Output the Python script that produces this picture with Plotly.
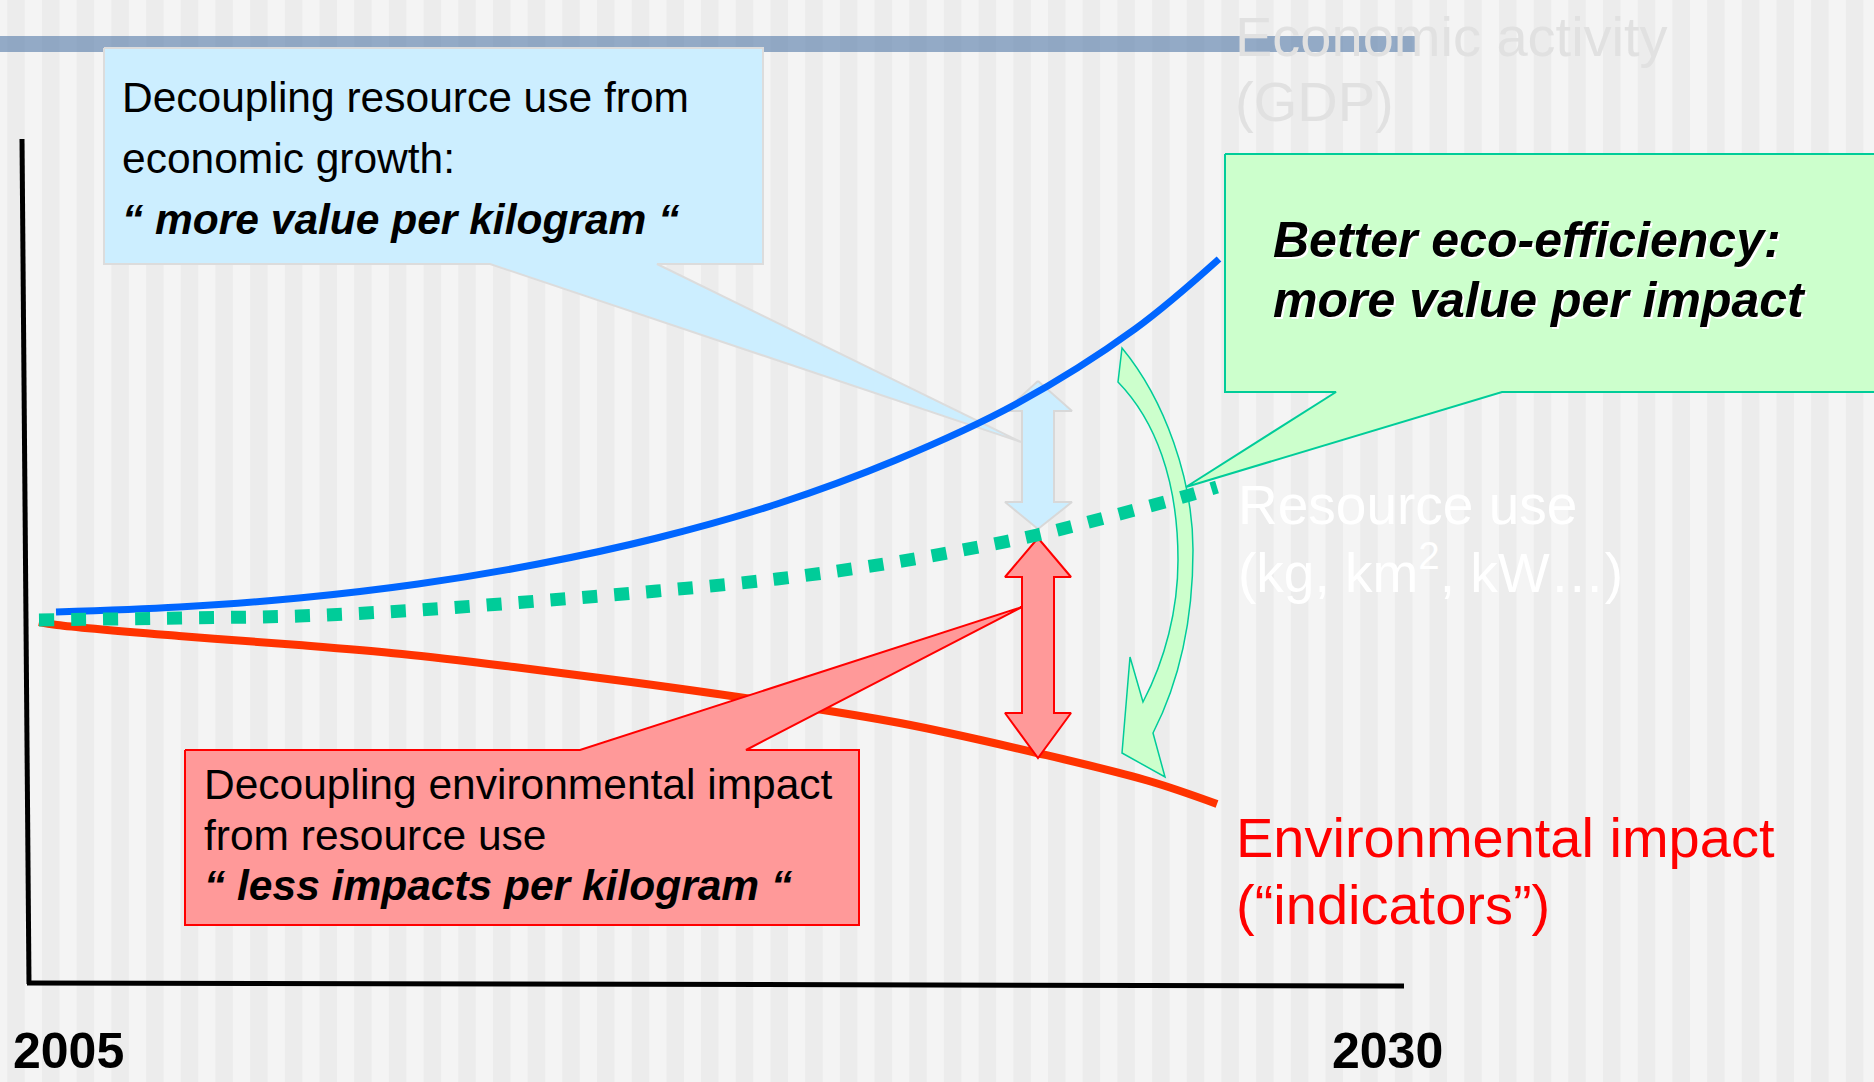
import plotly.graph_objects as go

W, H = 1874, 1082
FONT = "Liberation Sans, Arial, sans-serif"

# ---------------- data (diagram units = pixels of the original slide) -------------
econ_x = [56, 179, 299, 418, 538, 657, 777, 896, 1016, 1135, 1219]
econ_y = [612, 607, 598, 584, 564, 538, 504, 460, 404, 329, 259]

res_x = [39, 179, 299, 418, 538, 657, 777, 884, 963, 1037, 1112, 1190, 1217]
res_y = [620, 618, 616, 610, 601, 591, 579, 564, 550, 535, 516, 495, 487]

imp_x = [39, 57, 179, 299, 402, 514, 631, 765, 900, 1037, 1149, 1217]
imp_y = [622, 625, 636, 645, 654, 667, 682, 701, 723, 753, 781, 804]

year_labels = ["2005", "2030"]

fig = go.Figure()

# ---------------- background stripes + header bar (shapes, below traces) ----------
shapes = []
period, sw, start = 34.69, 17.5, 7.3 - 34.69
k = 0
while start + k * period < W:
    x0 = start + k * period
    shapes.append(dict(type="rect", xref="x", yref="y", x0=x0, x1=x0 + sw, y0=0, y1=H,
                       fillcolor="#ececec", line=dict(width=0), layer="below"))
    k += 1
shapes.append(dict(type="rect", xref="x", yref="y", x0=0, x1=1416, y0=36, y1=52,
                   fillcolor="#6a8ab2", opacity=0.7, line=dict(width=0), layer="below"))
# curved green arrow
shapes.append(dict(type="path", xref="x", yref="y", layer="below",
                   path="M1122,348 C1165,400 1193,480 1193,550 C1193,630 1175,690 1153,733 "
                        "L1165,777 L1122,753 L1130,657 L1143,702 "
                        "C1165,660 1178,610 1178,560 C1178,480 1155,420 1118,382 Z",
                   fillcolor="#ccffcc", line=dict(color="#00cc99", width=1.5)))


def poly(pts, fill, line, lw=2):
    xs = [p[0] for p in pts] + [pts[0][0]]
    ys = [p[1] for p in pts] + [pts[0][1]]
    fig.add_trace(go.Scatter(x=xs, y=ys, mode="lines", fill="toself", fillcolor=fill,
                             line=dict(color=line, width=lw), hoverinfo="skip",
                             showlegend=False))


def line(xs, ys, color, width, dash=None):
    fig.add_trace(go.Scatter(x=xs, y=ys, mode="lines", hoverinfo="skip", showlegend=False,
                             line=dict(color=color, width=width, dash=dash, shape="spline",
                                       smoothing=1.0)))


# axes lines
fig.add_trace(go.Scatter(x=[22, 29], y=[139, 984], mode="lines", hoverinfo="skip",
                         showlegend=False, line=dict(color="#000000", width=5)))
fig.add_trace(go.Scatter(x=[27, 1404], y=[983, 986], mode="lines", hoverinfo="skip",
                         showlegend=False, line=dict(color="#000000", width=5)))

# blue callout + blue double arrow (under the economic curve)
poly([(104, 48), (763, 48), (763, 264), (657, 264), (1021, 442), (490, 264), (104, 264)],
     "#cceeff", "#dcdcdc")
poly([(1038, 381), (1072, 411), (1054, 411), (1054, 502), (1072, 502), (1038, 529),
      (1005, 502), (1022, 502), (1022, 411), (1005, 411)], "#cceeff", "#d8d8d8")

line(econ_x, econ_y, "#0066ff", 7)
line(imp_x, imp_y, "#ff3300", 8)

# red callout + red double arrow
poly([(185, 750), (580, 750), (1022, 607), (746, 750), (859, 750), (859, 925), (185, 925)],
     "#ff9999", "#ff0000")
poly([(1038, 538), (1071, 577), (1054, 577), (1054, 713), (1071, 713), (1038, 758),
      (1005, 713), (1022, 713), (1022, 577), (1005, 577)], "#ff9999", "#ff0000")

# green callout
poly([(1225, 154), (1880, 154), (1880, 392), (1502, 392), (1186, 487), (1336, 392),
      (1225, 392)], "#ccffcc", "#00cc99")

line(res_x, res_y, "#00cc99", 13, dash="15px,17px")

# ---------------- text -------------------------------------------------------------
anns = []


def txt(x, base, s, size, color="#000000"):
    anns.append(dict(x=x - 1, y=base + 0.212 * size + 1, xref="x", yref="y", text=s,
                     showarrow=False, xanchor="left", yanchor="bottom",
                     font=dict(family=FONT, size=size, color=color)))


txt(1234, 57, "Economic activity", 56, "#e1e1e1")
txt(1234, 122, "(GDP)", 56, "#e1e1e1")
txt(1237, 525, "Resource use", 55, "#ffffff")
txt(1237, 593, "(kg, km<sup>2</sup>, kW…)", 55, "#ffffff")
txt(1235, 858, "Environmental impact", 56, "#ff0000")
txt(1235, 925, "(“indicators”)", 56, "#ff0000")

txt(121, 113, "Decoupling resource use from", 42.5)
txt(121, 174, "economic growth:", 42.5)
txt(121, 235, "<b><i>“ more value per kilogram “</i></b>", 42.5)

txt(203, 800, "Decoupling environmental impact", 42.5)
txt(203, 851, "from resource use", 42.5)
txt(203, 901, "<b><i>“ less impacts per kilogram “</i></b>", 42.5)

for dx, col in ((2, "#ffffff"), (0, "#000000")):
    txt(1272 + dx, 258 + dx, "<b><i>Better eco-efficiency:</i></b>", 50, col)
    txt(1272 + dx, 318 + dx, "<b><i>more value per impact</i></b>", 50, col)

txt(12, 1069, "<b>" + year_labels[0] + "</b>", 50)
txt(1331, 1069, "<b>" + year_labels[1] + "</b>", 50)

fig.update_layout(
    width=W, height=H, margin=dict(l=0, r=0, t=0, b=0),
    paper_bgcolor="#f4f4f4", plot_bgcolor="#f4f4f4",
    xaxis=dict(range=[0, W], visible=False, fixedrange=True),
    yaxis=dict(range=[H, 0], visible=False, fixedrange=True),
    shapes=shapes, annotations=anns, showlegend=False,
)

fig.write_html("out.html", config={"displayModeBar": False},
               post_script="document.body.style.margin='0';document.body.style.overflow='hidden';")
